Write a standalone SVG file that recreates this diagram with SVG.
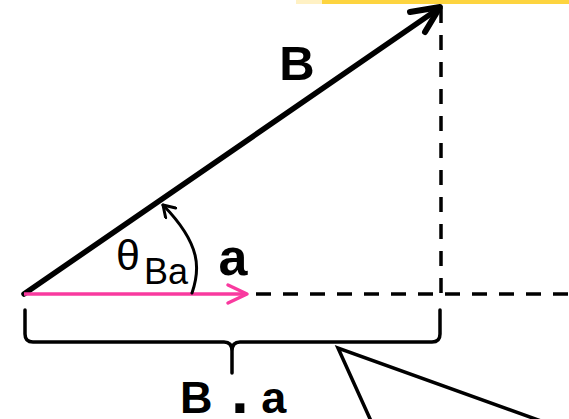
<svg xmlns="http://www.w3.org/2000/svg" width="569" height="419" viewBox="0 0 569 419">
<style>
  text { font-family: "Liberation Sans", Arial, sans-serif; fill: #000; }
  .bold { font-weight: bold; }
  .dash { stroke: #000; stroke-width: 3.5; stroke-dasharray: 15 12; fill: none; }
  .ink { stroke: #000; fill: none; stroke-linecap: round; stroke-linejoin: round; }
</style>
<defs>
  <marker id="arcHead" viewBox="-14 -8 16 16" markerWidth="16" markerHeight="16" markerUnits="userSpaceOnUse" refX="0" refY="0" orient="auto">
    <path d="M-11,-7 L0,0 L-11,7" fill="none" stroke="#000" stroke-width="3" stroke-linecap="round" stroke-linejoin="round"/>
  </marker>
</defs>
<rect width="569" height="419" fill="#fff"/>
<g id="highlight">
  <rect x="296" y="0" width="26" height="4" fill="#fff1c4"/>
  <rect x="322" y="0" width="247" height="4" fill="#fdd43f"/>
</g>
<g id="connectors">
  <line class="dash" x1="441" y1="8" x2="441" y2="294"/>
  <line class="dash" x1="256" y1="294" x2="569" y2="294"/>
  <g id="vectorB">
    <line class="ink" x1="24" y1="294" x2="438" y2="9" stroke-width="5.5"/>
    <polyline class="ink" points="410,12 440,7 425,32" stroke-width="6"/>
  </g>
  <g id="vectorA">
    <line x1="24" y1="294" x2="246" y2="294" stroke="#f93a9f" stroke-width="3.5"/>
    <polyline points="228,285 247,294 228,303" fill="none" stroke="#f93a9f" stroke-width="3.5" stroke-linecap="round" stroke-linejoin="round"/>
  </g>
  <path id="angleArc" class="ink" d="M192,293 C200,270 202,245 163,205" stroke-width="3" marker-end="url(#arcHead)"/>
  <path id="brace" class="ink" stroke-width="3.5" d="M25,310 L25,334 Q25,342 33,342 L224,342 Q232,342 232,351 L232,373 M232,351 Q232,342 240,342 L432,342 Q440,342 440,334 L440,310"/>
  <polyline id="callout" points="371,421 338,348 541,421" fill="none" stroke="#000" stroke-width="3.5" stroke-linejoin="miter"/>
</g>
<g id="labelB"><text class="bold" x="297" y="80" font-size="49" text-anchor="middle">B</text></g>
<g id="labelA"><text class="bold" x="233" y="275" font-size="52" text-anchor="middle">a</text></g>
<g id="labelTheta"><text x="128" y="270" font-size="43" text-anchor="middle">θ<tspan x="144" y="284" font-size="36" text-anchor="start">Ba</tspan></text></g>
<g id="labelDot"><text class="bold" x="180" y="413" font-size="45">B <tspan dx="6" font-size="64">.</tspan> a</text></g>
</svg>
